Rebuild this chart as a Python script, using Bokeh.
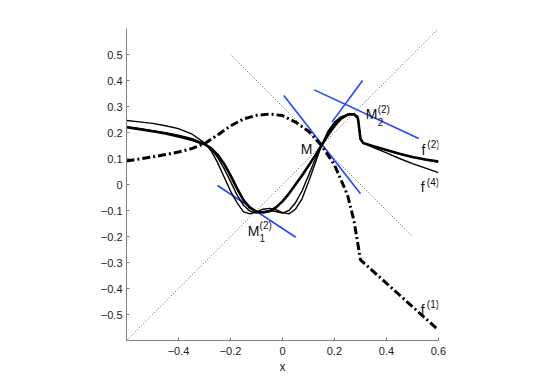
from bokeh.plotting import figure
from bokeh.models import FixedTicker, CustomJSTickFormatter
from bokeh.core.properties import value
from bokeh.embed import file_html
from bokeh.resources import INLINE

# ---------------- data ----------------
x1 = [-0.6, -0.55, -0.5, -0.45, -0.4, -0.35, -0.3, -0.25, -0.2, -0.15, -0.1, -0.05, 0.0,
      0.05, 0.1, 0.15, 0.2, 0.25, 0.275, 0.3, 0.35, 0.4, 0.45, 0.5, 0.55, 0.6]
f1 = [0.09, 0.098, 0.106, 0.115, 0.125, 0.138, 0.157, 0.19, 0.225, 0.252, 0.266, 0.271, 0.265,
      0.24, 0.205, 0.15, 0.075, -0.04, -0.14, -0.29, -0.335, -0.38, -0.425, -0.47, -0.515, -0.56]

xc = [-0.6, -0.55, -0.5, -0.45, -0.4, -0.35, -0.3, -0.275, -0.25, -0.225, -0.2, -0.175, -0.15,
      -0.125, -0.1, -0.075, -0.05, -0.025, 0.0, 0.025, 0.05, 0.075, 0.1, 0.125, 0.15, 0.175,
      0.2, 0.225, 0.25, 0.275, 0.29, 0.3, 0.31, 0.35, 0.4, 0.45, 0.5, 0.55, 0.6]
f2 = [0.220, 0.213, 0.205, 0.196, 0.185, 0.172, 0.155, 0.14, 0.115, 0.08, 0.035, -0.015, -0.06,
      -0.09, -0.104, -0.108, -0.103, -0.088, -0.065, -0.035, 0.0, 0.035, 0.072, 0.11, 0.15, 0.19,
      0.225, 0.253, 0.268, 0.27, 0.255, 0.175, 0.16, 0.147, 0.133, 0.118, 0.106, 0.096, 0.088]
f3 = [0.222, 0.215, 0.207, 0.199, 0.19, 0.177, 0.157, 0.137, 0.105, 0.062, 0.012, -0.04, -0.08,
      -0.103, -0.11, -0.105, -0.1, -0.104, -0.11, -0.1, -0.07, -0.025, 0.035, 0.095, 0.15, 0.2,
      0.235, 0.258, 0.27, 0.271, 0.258, 0.175, 0.16, 0.147, 0.132, 0.117, 0.105, 0.095, 0.087]
f4 = [0.246, 0.241, 0.235, 0.226, 0.215, 0.195, 0.16, 0.13, 0.085, 0.03, -0.025, -0.07, -0.105,
      -0.113, -0.105, -0.095, -0.092, -0.097, -0.108, -0.113, -0.095, -0.055, 0.01, 0.08, 0.15, 0.205,
      0.24, 0.26, 0.27, 0.272, 0.262, 0.175, 0.16, 0.142, 0.122, 0.1, 0.08, 0.063, 0.046]

diag_x = [-0.6, 0.6]
diag_y = [-0.6, 0.6]
anti_x = [-0.2, 0.5]
anti_y = [0.5, -0.2]

tan_x0 = [0.005, -0.25, 0.122, 0.308]
tan_y0 = [0.342, -0.004, 0.364, 0.40]
tan_x1 = [0.30, 0.051, 0.524, 0.19]
tan_y1 = [-0.036, -0.203, 0.177, 0.24]

main_txt = ["M", "M", "M", "f", "f", "f"]
main_x = [0.07, -0.134, 0.32, 0.535, 0.532, 0.532]
main_y = [0.138, -0.177, 0.273, 0.131, -0.008, -0.481]
sup_txt = ["(2)", "(2)", "(2)", "(4)", "(1)"]
sup_x = [-0.088, 0.366, 0.557, 0.555, 0.555]
sup_y = [-0.158, 0.288, 0.154, 0.006, -0.462]
sub_txt = ["1", "2"]
sub_x = [-0.088, 0.366]
sub_y = [-0.204, 0.24]

xticks = [-0.4, -0.2, 0.0, 0.2, 0.4, 0.6]
yticks = [-0.5, -0.4, -0.3, -0.2, -0.1, 0.0, 0.1, 0.2, 0.3, 0.4, 0.5]

# ---------------- figure ----------------
FONT = "Liberation Sans"
p = figure(width=537, height=375, frame_width=312, frame_height=312,
           x_range=(-0.6, 0.6), y_range=(-0.6, 0.6),
           output_backend="svg", toolbar_location=None,
           min_border_left=126, min_border_top=28, min_border_right=99, min_border_bottom=35)
p.outline_line_color = None
p.grid.visible = False
p.background_fill_color = "white"
p.border_fill_color = "white"

fmt = CustomJSTickFormatter(code="""
if (Math.abs(tick) < 1e-9) return '0';
return tick.toFixed(1).replace('-', '\u2212');
""")
for ax, ticks in ((p.xaxis[0], xticks), (p.yaxis[0], yticks)):
    ax.ticker = FixedTicker(ticks=ticks)
    ax.formatter = fmt
    ax.axis_line_color = "#808080"
    ax.major_tick_line_color = "#808080"
    ax.major_tick_in = 3
    ax.major_tick_out = 0
    ax.minor_tick_line_color = None
    ax.major_label_text_font = FONT
    ax.major_label_text_font_size = "11px"
    ax.major_label_text_color = "#222222"
p.xaxis.major_label_standoff = 6
p.yaxis.major_label_standoff = 4
p.xaxis.axis_label = "x"
p.xaxis.axis_label_text_font = FONT
p.xaxis.axis_label_text_font_size = "12px"
p.xaxis.axis_label_text_font_style = "normal"
p.xaxis.axis_label_text_color = "#222222"
p.xaxis.axis_label_standoff = 2

# dotted reference lines
p.line(diag_x, diag_y, line_color="#666666", line_width=1, line_dash="1 2")
p.line(anti_x, anti_y, line_color="#666666", line_width=1, line_dash="1 2")

# blue tangent segments
p.segment(x0=tan_x0, y0=tan_y0, x1=tan_x1, y1=tan_y1, line_color="#2244ff", line_width=1.6)

# curves
p.line(x1, f1, line_color="black", line_width=3, line_dash="8 3 2 3")
p.line(xc, f4, line_color="black", line_width=1.4)
p.line(xc, f3, line_color="black", line_width=1.4)
p.line(xc, f2, line_color="black", line_width=2.6)

# labels
p.text(x=main_x, y=main_y, text=main_txt, text_font=value(FONT), text_font_size="14px",
       text_baseline="middle", text_align="left", text_color="#111111")
p.text(x=sup_x, y=sup_y, text=sup_txt, text_font=value(FONT), text_font_size="10px",
       text_baseline="middle", text_align="left", text_color="#111111")
p.text(x=sub_x, y=sub_y, text=sub_txt, text_font=value(FONT), text_font_size="10px",
       text_baseline="middle", text_align="left", text_color="#111111")

open("out.html", "w").write(file_html(p, INLINE))
